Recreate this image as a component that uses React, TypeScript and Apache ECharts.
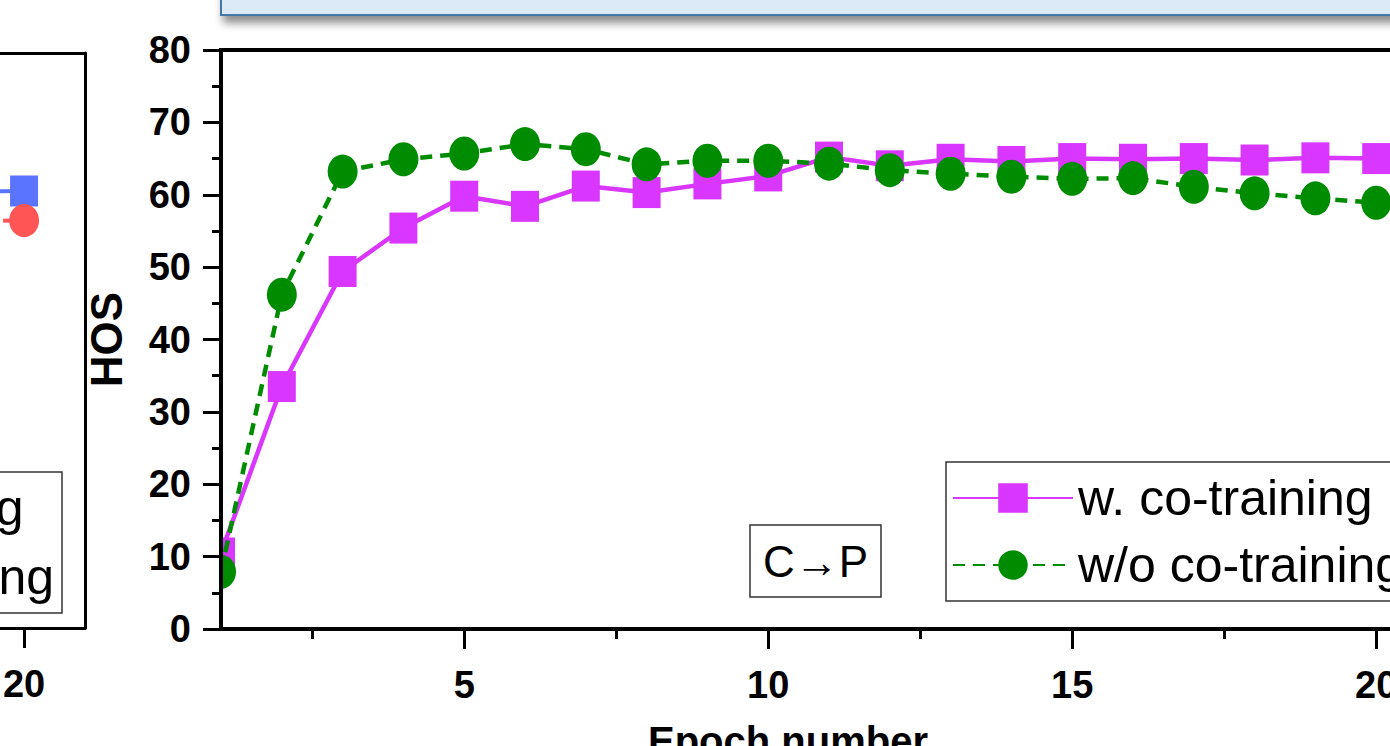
import React, { useEffect, useRef } from "react";
import * as echarts from "echarts";

// ---- data ----
const epochs = [1, 2, 3, 4, 5, 6, 7, 8, 9, 10, 11, 12, 13, 14, 15, 16, 17, 18, 19, 20];
const withCoTraining = [10.5, 33.5, 49.4, 55.4, 59.8, 58.4, 61.2, 60.3, 61.5, 62.6, 65.2, 64.0, 64.9, 64.6, 65.0, 64.9, 65.0, 64.8, 65.1, 65.0];
const withoutCoTraining = [7.9, 46.2, 63.2, 64.9, 65.7, 67.0, 66.3, 64.2, 64.7, 64.7, 64.3, 63.4, 62.9, 62.5, 62.2, 62.3, 61.1, 60.2, 59.5, 58.9];

// neighbouring panel (only its right edge is visible)
const leftEpochs = [19, 20];
const leftWith = [60.7, 60.8];
const leftWithout = [56.6, 56.7];

const yTicks = [0, 10, 20, 30, 40, 50, 60, 70, 80];
const xMajorTicks = [5, 10, 15, 20];
const xMinorTicks = [2.5, 7.5, 12.5, 17.5];
const seriesNames = ["w. co-training", "w/o co-training"];
const panelLabel = "C→P";
const xName = "Epoch number";
const yName = "HOS";

const FONT = "'Liberation Sans', Arial, Helvetica, sans-serif";

export default function App() {
  const ref = useRef<HTMLDivElement>(null);

  useEffect(() => {
    if (!ref.current) return;
    const chart = echarts.init(ref.current, null, { renderer: "svg" });
    const W = 1450;
    const pxPerEpoch = 60.8;
    const mainLeft = 221;
    const gridWidth = 20 * pxPerEpoch;
    // left (neighbouring) panel: only the strip x in [0, 85] is visible
    const leftPanelRight = 85;
    const leftPanelMin = 20 - 24 / pxPerEpoch;
    const leftPanelMax = 21;

    const pts = (xs: number[], ys: number[]) => xs.map((x, i) => [x, ys[i]]);
    const tickFont = { fontSize: 38, fontWeight: "bold", color: "#000", fontFamily: FONT };

    const option: any = {
      animation: false,
      backgroundColor: "#ffffff",
      textStyle: { fontFamily: FONT },
      title: {
        text: panelLabel,
        left: 750,
        top: 525,
        padding: [14, 13, 14, 13],
        borderColor: "#333",
        borderWidth: 1.5,
        textStyle: { fontSize: 44, fontWeight: "normal", color: "#000", fontFamily: FONT },
      },
      graphic: [
        {
          type: "rect",
          shape: { x: 221, y: -20, width: 1300, height: 35 },
          style: {
            fill: "#dce9f6",
            stroke: "#3f78a6",
            lineWidth: 2,
            shadowBlur: 8,
            shadowOffsetY: 7,
            shadowOffsetX: 3,
            shadowColor: "rgba(0,0,0,0.45)",
          },
          z: 10,
        },
        {
          // markers are clipped by the plot frame at the left edge
          type: "rect",
          shape: { x: 196, y: 520, width: 23, height: 85 },
          style: { fill: "#ffffff" },
          z: 4.5,
        },
      ],
      legend: [
        {
          data: seriesNames,
          orient: "vertical",
          left: 946,
          top: 462,
          padding: [11, 14, 11, 6],
          itemGap: 17,
          itemWidth: 120,
          itemHeight: 37,
          borderColor: "#333",
          borderWidth: 1.5,
          backgroundColor: "#fff",
          textStyle: { fontSize: 50, color: "#000", fontFamily: FONT },
        },
        {
          data: seriesNames,
          orient: "vertical",
          right: W - 62,
          top: 472,
          padding: [11, 8, 11, 6],
          itemGap: 19,
          itemWidth: 120,
          itemHeight: 37,
          borderColor: "#333",
          borderWidth: 1.5,
          backgroundColor: "#fff",
          textStyle: { fontSize: 50, color: "#000", fontFamily: FONT },
        },
      ],
      grid: [
        {
          left: mainLeft,
          top: 50,
          width: gridWidth,
          height: 579,
          show: true,
          borderColor: "#000",
          borderWidth: 4,
          containLabel: false,
          outerBoundsMode: "none",
        },
        {
          left: 0,
          top: 53,
          width: leftPanelRight,
          height: 575,
          show: false,
          containLabel: false,
          outerBoundsMode: "none",
        },
      ],
      xAxis: [
        {
          type: "value",
          gridIndex: 0,
          min: 1,
          max: 21,
          name: xName,
          nameLocation: "middle",
          nameGap: 92,
          nameTextStyle: { fontSize: 40, fontWeight: "bold", color: "#000", padding: [0, 82, 0, 0], fontFamily: FONT },
          axisLine: { show: true, lineStyle: { color: "#000", width: 4 } },
          axisTick: { show: true, customValues: xMajorTicks, length: 20, lineStyle: { color: "#000", width: 3 } },
          axisLabel: { show: true, customValues: xMajorTicks, margin: 37, ...tickFont },
          splitLine: { show: false },
          z: 5,
        },
        {
          type: "value",
          gridIndex: 0,
          position: "bottom",
          offset: 0,
          min: 1,
          max: 21,
          axisLine: { show: false },
          axisTick: { show: true, customValues: xMinorTicks, length: 10, lineStyle: { color: "#000", width: 3 } },
          axisLabel: { show: false },
          splitLine: { show: false },
        },
        {
          type: "value",
          gridIndex: 1,
          position: "bottom",
          min: leftPanelMin,
          max: leftPanelMax,
          axisLine: { show: true, lineStyle: { color: "#000", width: 3 } },
          axisTick: { show: true, customValues: [20], length: 20, lineStyle: { color: "#000", width: 3 } },
          axisLabel: { show: true, customValues: [20], margin: 37, ...tickFont },
          splitLine: { show: false },
        },
        {
          type: "value",
          gridIndex: 1,
          position: "top",
          min: leftPanelMin,
          max: leftPanelMax,
          axisLine: { show: true, lineStyle: { color: "#000", width: 3 } },
          axisTick: { show: false },
          axisLabel: { show: false },
          splitLine: { show: false },
        },
      ],
      yAxis: [
        {
          type: "value",
          gridIndex: 0,
          min: 0,
          max: 80,
          interval: 10,
          name: yName,
          nameLocation: "middle",
          nameGap: 93,
          nameRotate: 90,
          nameTextStyle: { fontSize: 44, fontWeight: "bold", color: "#000", fontFamily: FONT },
          axisLine: { show: true, lineStyle: { color: "#000", width: 4 } },
          axisTick: { show: true, length: 18, lineStyle: { color: "#000", width: 3 } },
          minorTick: { show: true, splitNumber: 2, length: 9, lineStyle: { color: "#000", width: 3 } },
          axisLabel: { show: true, margin: 30, customValues: yTicks, ...tickFont },
          splitLine: { show: false },
          z: 5,
        },
        {
          type: "value",
          gridIndex: 1,
          position: "right",
          min: 0,
          max: 80,
          interval: 10,
          axisLine: { show: true, lineStyle: { color: "#000", width: 3 } },
          axisTick: { show: false },
          axisLabel: { show: false },
          splitLine: { show: false },
        },
      ],
      series: [
        {
          name: seriesNames[0],
          type: "line",
          xAxisIndex: 0,
          yAxisIndex: 0,
          data: pts(epochs, withCoTraining),
          symbol: "rect",
          symbolSize: [28, 31],
          lineStyle: { color: "#d936ff", width: 4.5 },
          itemStyle: { color: "#d936ff" },
          z: 3,
        },
        {
          name: seriesNames[1],
          type: "line",
          xAxisIndex: 0,
          yAxisIndex: 0,
          data: pts(epochs, withoutCoTraining),
          symbol: "circle",
          symbolSize: [30, 34],
          lineStyle: { color: "#008c00", width: 4.5, type: [12, 8] },
          itemStyle: { color: "#008c00" },
          z: 4,
        },
        {
          name: seriesNames[0],
          type: "line",
          xAxisIndex: 2,
          yAxisIndex: 1,
          data: pts(leftEpochs, leftWith),
          symbol: "rect",
          symbolSize: [28, 31],
          lineStyle: { color: "#5b74ff", width: 4 },
          itemStyle: { color: "#5b74ff" },
          clip: true,
        },
        {
          name: seriesNames[1],
          type: "line",
          xAxisIndex: 2,
          yAxisIndex: 1,
          data: pts(leftEpochs, leftWithout),
          symbol: "circle",
          symbolSize: [30, 33],
          lineStyle: { color: "#ff5555", width: 4, type: [12, 8] },
          itemStyle: { color: "#ff5555" },
          clip: true,
        },
      ],
    };
    chart.setOption(option);
    return () => chart.dispose();
  }, []);

  return (
    <div
      style={{
        position: "fixed",
        left: 0,
        top: 0,
        width: 1390,
        height: 746,
        overflow: "hidden",
        background: "#fff",
      }}
    >
      <div ref={ref} style={{ width: 1450, height: 746 }} />
    </div>
  );
}
